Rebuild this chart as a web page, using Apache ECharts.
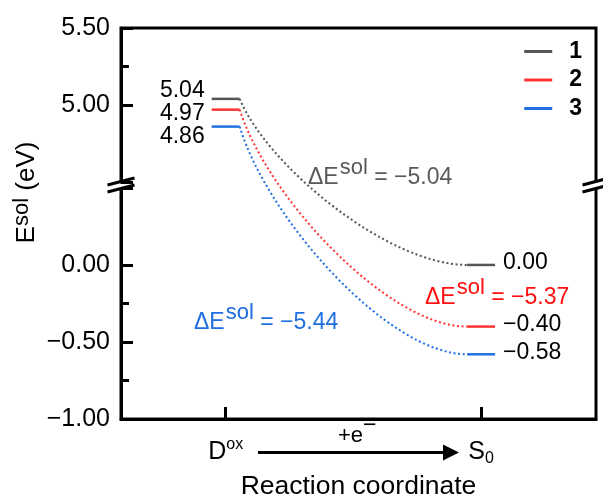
<!DOCTYPE html>
<html><head><meta charset="utf-8">
<script src="https://cdn.jsdelivr.net/npm/echarts@6/dist/echarts.min.js"></script>
<style>html,body{margin:0;padding:0;background:#fff}#c{width:603px;height:500px}</style>
</head><body><div id="c"></div>
<script>
// ---- data ----
const species = ['1', '2', '3'];
const eDox = [5.04, 4.97, 4.86];          // E_sol of D^ox (eV)
const eS0 = [0.00, -0.40, -0.58];         // E_sol of S_0 (eV)
const deltaE = [-5.04, -5.37, -5.44];     // ΔE_sol (eV)
const xStates = [1, 3];                   // reaction-coordinate positions: D^ox, S_0
const yTickLabels = [5.5, 5.0, 0.0, -0.5, -1.0];
const yBreak = [0.5, 4.5];

// ---- style ----
const FONT = 'Liberation Sans';
const lineColors = ['#555555', '#ff3434', '#2070e4'];
const textColors = ['#5a5a5a', '#ff1010', '#1f6fe0'];
const leftLabelDy = [-8, 4, 10];
const dELabelPos = [[308, 185], [425, 305], [194, 330]]; // left x, baseline y (px)

const fmt = v => v.toFixed(2).replace('-', '\u2212');

const chart = echarts.init(document.getElementById('c'), null, {renderer: 'canvas'});

function makeSeries(i) {
  return {
    type: 'custom',
    name: species[i],
    itemStyle: {color: lineColors[i]},
    encode: {x: [0, 2], y: [1, 3]},
    data: [[xStates[0], eDox[i], xStates[1], eS0[i]]],
    z: 5,
    renderItem: function (params, api) {
      const pD = api.coord([api.value(0), api.value(1)]);
      const pS = api.coord([api.value(2), api.value(3)]);
      const hw = 14;
      const x1 = pD[0] + hw, y1 = pD[1], x2 = pS[0] - hw, y2 = pS[1];
      const dx = x2 - x1, dy = y2 - y1;
      const c = lineColors[i];
      return {
        type: 'group',
        children: [
          {type: 'line', shape: {x1: pD[0] - hw, y1: pD[1], x2: pD[0] + hw, y2: pD[1]}, style: {stroke: c, lineWidth: 2.5}},
          {type: 'line', shape: {x1: pS[0] - hw, y1: pS[1], x2: pS[0] + hw, y2: pS[1]}, style: {stroke: c, lineWidth: 2.5}},
          {type: 'bezierCurve', shape: {x1: x1, y1: y1, x2: x2, y2: y2,
              cpx1: x1 + 0.12 * dx, cpy1: y1 + 0.4 * dy, cpx2: x1 + 0.65 * dx, cpy2: y2},
            style: {stroke: c, lineWidth: 2, lineDash: [2, 2.6], fill: null}},
          {type: 'text', style: {text: fmt(api.value(1)), x: pD[0] - hw - 7, y: pD[1] + leftLabelDy[i],
              align: 'right', verticalAlign: 'middle', fontSize: 23, fontFamily: FONT, fill: '#000'}},
          {type: 'text', style: {text: fmt(api.value(3)), x: pS[0] + hw + 8, y: pS[1] - 2,
              align: 'left', verticalAlign: 'middle', fontSize: 23, fontFamily: FONT, fill: '#000'}}
        ]
      };
    }
  };
}

const option = {
  animation: false,
  textStyle: {fontFamily: FONT},
  grid: {left: 121, right: 7, top: 28, bottom: 81, show: true, borderColor: '#000', borderWidth: 3,
    backgroundColor: 'transparent', containLabel: false, outerBoundsMode: 'none'},
  legend: {
    data: species, orient: 'vertical', right: 16, top: 35, icon: 'rect',
    itemWidth: 28, itemHeight: 3, itemGap: 5.5,
    textStyle: {fontSize: 23, fontWeight: 'bold', color: '#000', fontFamily: FONT, padding: [0, 0, 0, 12]}
  },
  xAxis: {
    type: 'value', min: 0.18, max: 3.9,
    name: 'Reaction coordinate', nameLocation: 'middle', nameGap: 54, nameMoveOverlap: false,
    nameTextStyle: {fontSize: 26.5, color: '#000', fontFamily: FONT},
    axisLine: {onZero: false, lineStyle: {color: '#000', width: 3}},
    axisTick: {inside: true, length: 12, lineStyle: {color: '#000', width: 3}, customValues: xStates},
    axisLabel: {
      customValues: xStates, margin: 18, color: '#000',
      formatter: v => (Math.abs(v - xStates[0]) < 1e-9 ? '{b|D}{sup|ox}' : '{b|S}{sub|0}'),
      rich: {
        b: {fontSize: 25, lineHeight: 30, fontFamily: FONT, color: '#000'},
        sup: {fontSize: 16, lineHeight: 14, verticalAlign: 'top', fontFamily: FONT, color: '#000'},
        sub: {fontSize: 16, lineHeight: 12, verticalAlign: 'bottom', fontFamily: FONT, color: '#000'}
      }
    },
    splitLine: {show: false}
  },
  yAxis: {
    type: 'value', min: -1, max: 5.5, interval: 0.5,
    breaks: [{start: yBreak[0], end: yBreak[1], gap: '1.5%'}],
    breakArea: {show: false},
    name: 'E{sup|sol} (eV)', nameLocation: 'middle', nameGap: 78, nameMoveOverlap: false,
    nameTextStyle: {fontSize: 26, color: '#000', fontFamily: FONT, lineHeight: 32, padding: [0, 0, 0, 62],
      rich: {sup: {fontSize: 22, lineHeight: 22, verticalAlign: 'top', fontFamily: FONT, color: '#000'}}},
    axisLine: {onZero: false, lineStyle: {color: '#000', width: 3}},
    axisTick: {inside: true, length: 12, lineStyle: {color: '#000', width: 3}},
    minorTick: {show: true, splitNumber: 2, length: 8, lineStyle: {color: '#000', width: 3}},
    axisLabel: {
      margin: 11, fontSize: 25, color: '#000', fontFamily: FONT,
      formatter: v => (yTickLabels.some(t => Math.abs(t - v) < 1e-9) ? fmt(v) : '')
    },
    splitLine: {show: false},
    minorSplitLine: {show: false}
  },
  series: species.map((s, i) => makeSeries(i))
};

chart.setOption(option);

// ---- decorations ----
const ctx = document.createElement('canvas').getContext('2d');
function tw(text, size) { ctx.font = size + 'px "' + FONT + '"'; return ctx.measureText(text).width; }

function supLabel(x, base, main1, sup, main2, color) {
  const f = 23, fs = 22;
  const w1 = tw(main1, f), ws = tw(sup, fs);
  return {
    type: 'group', z: 50, children: [
      {type: 'text', style: {text: main1, x: x, y: base - 0.31 * f, verticalAlign: 'middle', fontSize: f, fontFamily: FONT, fill: color}},
      {type: 'text', style: {text: sup, x: x + w1 + 1, y: base - 10 - 0.31 * fs, verticalAlign: 'middle', fontSize: fs, fontFamily: FONT, fill: color}},
      {type: 'text', style: {text: main2, x: x + w1 + 1 + ws, y: base - 0.31 * f, verticalAlign: 'middle', fontSize: f, fontFamily: FONT, fill: color}}
    ]
  };
}

function breakMark(xc, yc) {
  return {
    type: 'group', z: 100, children: [
      {type: 'polygon', shape: {points: [[xc - 13.5, yc], [xc + 13.5, yc - 7], [xc + 13.5, yc], [xc - 13.5, yc + 7]]}, style: {fill: '#fff'}},
      {type: 'line', shape: {x1: xc - 13.5, y1: yc, x2: xc + 13.5, y2: yc - 7}, style: {stroke: '#000', lineWidth: 3}},
      {type: 'line', shape: {x1: xc - 13.5, y1: yc + 7, x2: xc + 13.5, y2: yc}, style: {stroke: '#000', lineWidth: 3}}
    ]
  };
}

const yTopPx = chart.convertToPixel({yAxisIndex: 0}, yBreak[1]);
const yBotPx = chart.convertToPixel({yAxisIndex: 0}, yBreak[0]);
const ycBreak = (yTopPx + yBotPx) / 2;
const xl = chart.convertToPixel({xAxisIndex: 0}, option.xAxis.min);
const xr = chart.convertToPixel({xAxisIndex: 0}, option.xAxis.max);

const graphics = [breakMark(xl, ycBreak), breakMark(xr, ycBreak)];
species.forEach((s, i) => {
  graphics.push(supLabel(dELabelPos[i][0], dELabelPos[i][1], '\u0394E', 'sol', ' = ' + fmt(deltaE[i]), textColors[i]));
});
// reaction arrow with +e−
graphics.push({type: 'line', z: 50, shape: {x1: 258, y1: 452.5, x2: 447, y2: 452.5}, style: {stroke: '#000', lineWidth: 3}});
graphics.push({type: 'polygon', z: 50, shape: {points: [[443, 444.5], [459, 452.5], [443, 460.5]]}, style: {fill: '#000'}});
graphics.push({type: 'text', z: 50, style: {text: '+e', x: 338, y: 436, verticalAlign: 'middle', fontSize: 22, fontFamily: FONT, fill: '#000'}});
graphics.push({type: 'text', z: 50, style: {text: '\u2212', x: 363, y: 426, verticalAlign: 'middle', fontSize: 23, fontFamily: FONT, fill: '#000'}});

chart.setOption({graphic: graphics});
</script>
</body></html>
